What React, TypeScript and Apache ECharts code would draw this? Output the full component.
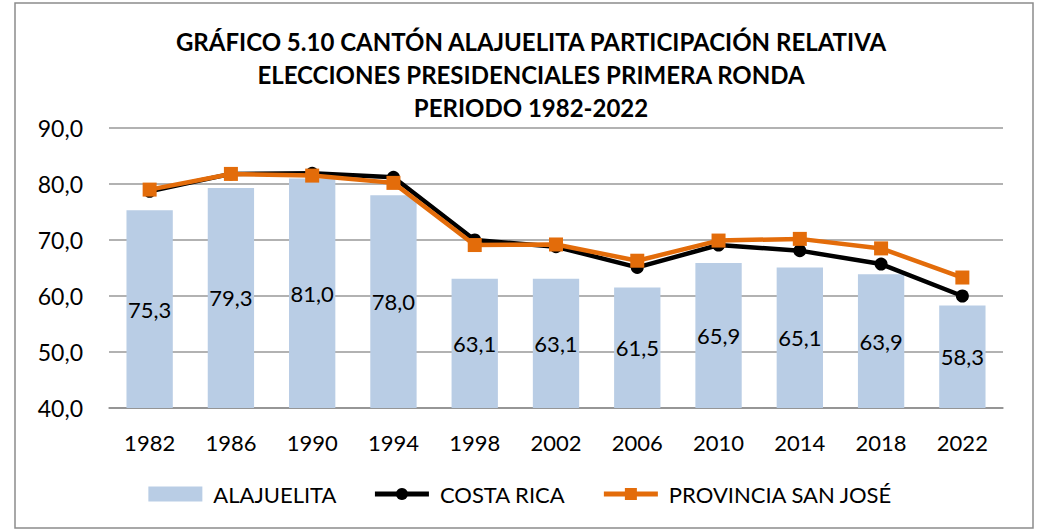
import React, { useEffect, useRef } from "react";
import * as echarts from "echarts";

const years = ["1982", "1986", "1990", "1994", "1998", "2002", "2006", "2010", "2014", "2018", "2022"];
const alajuelita = [75.3, 79.3, 81.0, 78.0, 63.1, 63.1, 61.5, 65.9, 65.1, 63.9, 58.3];
const costaRica = [78.7, 81.8, 81.9, 81.2, 70.0, 68.8, 65.1, 69.1, 68.1, 65.7, 60.0];
const sanJose = [79.0, 81.8, 81.5, 80.2, 69.1, 69.2, 66.3, 69.9, 70.2, 68.5, 63.3];
const titleLines = [
  "GRÁFICO 5.10 CANTÓN ALAJUELITA PARTICIPACIÓN RELATIVA",
  "ELECCIONES PRESIDENCIALES PRIMERA RONDA",
  "PERIODO 1982-2022",
];
const seriesNames = ["ALAJUELITA", "COSTA RICA", "PROVINCIA SAN JOSÉ"];

const FONT = "Lato, 'Noto Sans', sans-serif";
const fmt = (v: number) => v.toFixed(1).replace(".", ",");

export default function App() {
  const ref = useRef<HTMLDivElement>(null);
  useEffect(() => {
    if (!ref.current) return;
    const chart = echarts.init(ref.current, null, { renderer: "svg" });
    chart.setOption({
      animation: false,
      backgroundColor: "#ffffff",
      textStyle: { fontFamily: FONT },
      title: {
        text: titleLines.join("\n"),
        left: 526,
        textAlign: "center",
        top: 20,
        textStyle: { fontFamily: FONT, fontWeight: "bold", fontSize: 24, lineHeight: 33, color: "#000" },
      },
      graphic: [
        {
          type: "rect",
          shape: { x: 15, y: 3, width: 1018, height: 525 },
          style: { fill: "none", stroke: "#8c8c8c", lineWidth: 1.5 },
          silent: true,
        },
      ],
      legend: {
        top: 478,
        left: "center",
        itemGap: 36,
        itemWidth: 54,
        itemHeight: 15,
        textStyle: { fontFamily: FONT, fontSize: 22, color: "#000", padding: [0, 0, 0, 6] },
        data: [
          { name: seriesNames[0], icon: "rect" },
          { name: seriesNames[1], lineStyle: { width: 5, color: "#000" } },
          { name: seriesNames[2], lineStyle: { width: 5, color: "#E36C0A" } },
        ],
      },
      grid: { left: 109, right: 38, top: 128, bottom: 123, containLabel: false },
      xAxis: {
        type: "category",
        data: years,
        axisTick: { show: false },
        axisLine: { lineStyle: { color: "#8c8c8c", width: 1.5 } },
        axisLabel: { fontFamily: FONT, fontSize: 22, color: "#000", margin: 23 },
      },
      yAxis: {
        type: "value",
        min: 40,
        max: 90,
        interval: 10,
        axisLine: { show: false },
        axisTick: { show: false },
        splitLine: { lineStyle: { color: "#999999", width: 1.5 } },
        axisLabel: { fontFamily: FONT, fontSize: 23, color: "#000", margin: 26, formatter: (v: number) => fmt(v) },
      },
      series: [
        {
          name: seriesNames[0],
          type: "bar",
          data: alajuelita,
          barWidth: "57%",
          itemStyle: { color: "#B9CDE5" },
          label: {
            show: true,
            position: "inside",
            fontFamily: FONT,
            fontSize: 22,
            color: "#000",
            formatter: (p: any) => fmt(p.value),
          },
          z: 1,
        },
        {
          name: seriesNames[1],
          type: "line",
          data: costaRica,
          symbol: "circle",
          symbolSize: 13,
          lineStyle: { color: "#000", width: 4.5 },
          itemStyle: { color: "#000" },
          z: 3,
        },
        {
          name: seriesNames[2],
          type: "line",
          data: sanJose,
          symbol: "rect",
          symbolSize: 14,
          lineStyle: { color: "#E36C0A", width: 4.5 },
          itemStyle: { color: "#E36C0A" },
          z: 4,
        },
      ],
    });
    return () => chart.dispose();
  }, []);
  return (
    <div style={{ position: "fixed", left: 0, top: 0, width: 1041, height: 531 }}>
      <div ref={ref} style={{ width: 1041, height: 531 }} />
    </div>
  );
}
